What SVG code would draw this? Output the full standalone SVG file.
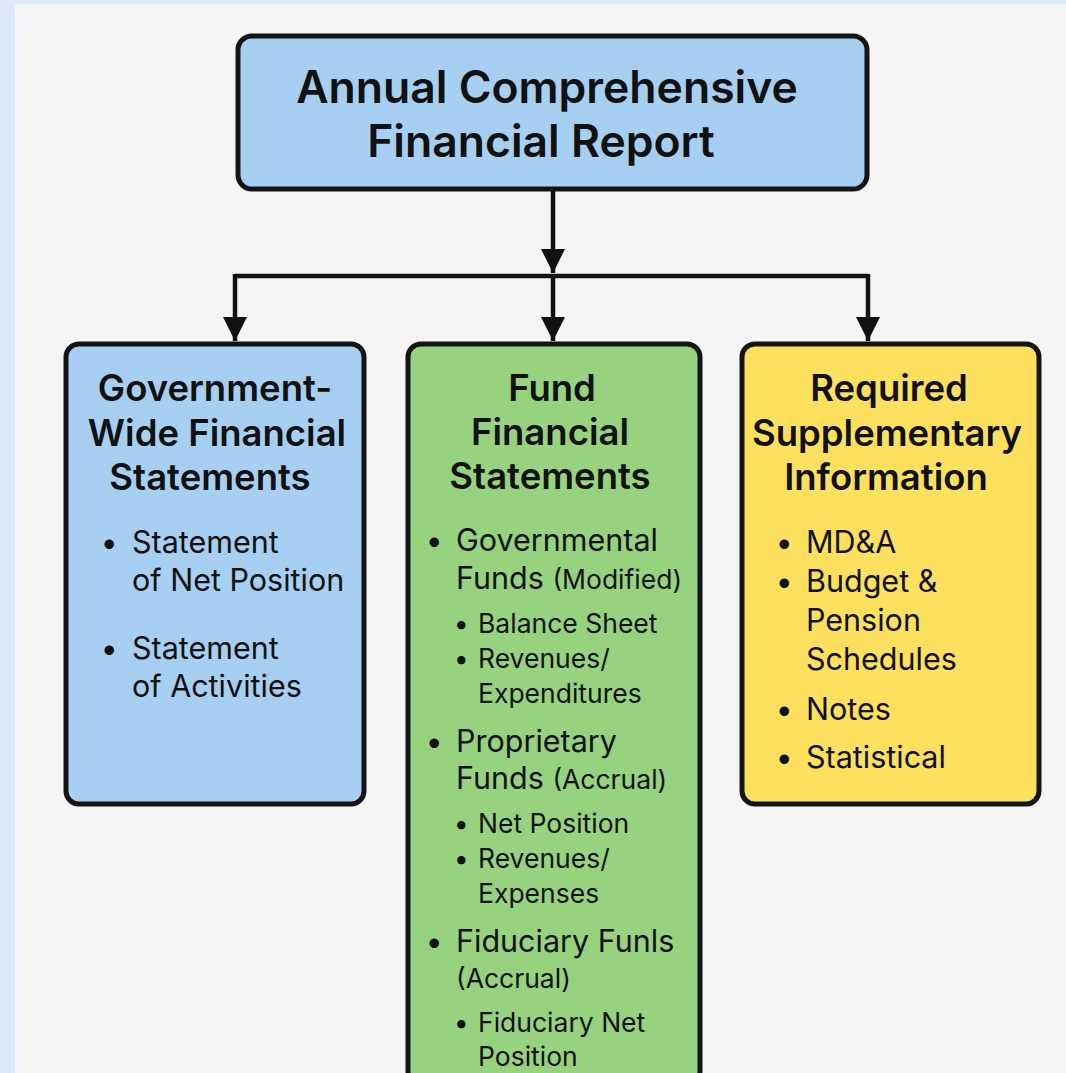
<svg xmlns="http://www.w3.org/2000/svg" width="1066" height="1073" viewBox="0 0 1066 1073">
  <style>
    .box { stroke: #141414; stroke-width: 5; }
    .blue { fill: #a6cff2; }
    .green { fill: #97d27f; }
    .yellow { fill: #fce05e; }
    .title { font-family: Inter, "Open Sans", "Liberation Sans", sans-serif; font-weight: 600; font-size: 44.5px; fill: #111; text-anchor: middle; }
    .head { font-family: Inter, "Open Sans", "Liberation Sans", sans-serif; font-weight: 600; font-size: 36.5px; fill: #111; text-anchor: middle; }
    .item { font-family: Inter, "Open Sans", "Liberation Sans", sans-serif; font-size: 30.5px; fill: #111; }
    .sub { font-family: Inter, "Open Sans", "Liberation Sans", sans-serif; font-size: 26.5px; fill: #111; }
    .dot { font-weight: 700; }
    .note { font-size: 26.5px; }
    .wire { fill: none; stroke: #111; stroke-width: 4.5; }
  </style>
  <defs>
    <marker id="arrow" markerUnits="userSpaceOnUse" markerWidth="26" markerHeight="26" refX="24" refY="12" orient="auto">
      <path d="M0,0 L24,12 L0,24 Z" fill="#111"/>
    </marker>
  </defs>

  <!-- backdrop -->
  <rect x="0" y="0" width="1066" height="1073" fill="#dde9fa"/>
  <rect x="15" y="4" width="1051" height="1069" fill="#f5f5f5"/>

  <!-- connectors -->
  <g id="connectors">
    <path class="wire" d="M553,190 V273" marker-end="url(#arrow)"/>
    <path class="wire" d="M235,276 H868"/>
    <path class="wire" d="M235,274 V341" marker-end="url(#arrow)"/>
    <path class="wire" d="M553,274 V341" marker-end="url(#arrow)"/>
    <path class="wire" d="M868,274 V341" marker-end="url(#arrow)"/>
  </g>

  <!-- root -->
  <g id="acfr">
    <rect class="box blue" x="238" y="36" width="629" height="153" rx="14"/>
    <text class="title" x="547" y="103">Annual Comprehensive</text>
    <text class="title" x="541" y="157">Financial Report</text>
  </g>

  <!-- government-wide -->
  <g id="gov-wide">
    <rect class="box blue" x="66" y="344" width="298" height="460" rx="13"/>
    <text class="head" x="215" y="401">Government-</text>
    <text class="head" x="217" y="446">Wide Financial</text>
    <text class="head" x="210" y="490">Statements</text>
    <text class="item dot" x="102" y="553">•</text>
    <text class="item" x="132" y="553">Statement</text>
    <text class="item" x="132" y="591">of Net Position</text>
    <text class="item dot" x="102" y="659">•</text>
    <text class="item" x="132" y="659">Statement</text>
    <text class="item" x="132" y="697">of Activities</text>
  </g>

  <!-- fund statements -->
  <g id="fund">
    <rect class="box green" x="408" y="344" width="292" height="740" rx="13"/>
    <text class="head" x="552" y="401">Fund</text>
    <text class="head" x="550" y="445">Financial</text>
    <text class="head" x="550" y="489">Statements</text>
    <text class="item dot" x="427" y="551">•</text>
    <text class="item" x="456" y="551">Governmental</text>
    <text class="item" x="456" y="589">Funds <tspan class="note">(Modified)</tspan></text>
    <text class="sub dot" x="455" y="633">•</text>
    <text class="sub" x="478" y="633">Balance Sheet</text>
    <text class="sub dot" x="455" y="668">•</text>
    <text class="sub" x="478" y="668">Revenues/</text>
    <text class="sub" x="478" y="703">Expenditures</text>
    <text class="item dot" x="427" y="752">•</text>
    <text class="item" x="456" y="752">Proprietary</text>
    <text class="item" x="456" y="789">Funds <tspan class="note">(Accrual)</tspan></text>
    <text class="sub dot" x="455" y="833">•</text>
    <text class="sub" x="478" y="833">Net Position</text>
    <text class="sub dot" x="455" y="868">•</text>
    <text class="sub" x="478" y="868">Revenues/</text>
    <text class="sub" x="478" y="903">Expenses</text>
    <text class="item dot" x="427" y="952">•</text>
    <text class="item" x="456" y="952">Fiduciary Funls</text>
    <text class="item note" x="456" y="988">(Accrual)</text>
    <text class="sub dot" x="455" y="1032">•</text>
    <text class="sub" x="478" y="1032">Fiduciary Net</text>
    <text class="sub" x="478" y="1066">Position</text>
  </g>

  <!-- required supplementary information -->
  <g id="rsi">
    <rect class="box yellow" x="742" y="344" width="297" height="460" rx="13"/>
    <text class="head" x="889" y="401">Required</text>
    <text class="head" x="887" y="446">Supplementary</text>
    <text class="head" x="886" y="490">Information</text>
    <text class="item dot" x="777" y="553">•</text>
    <text class="item" x="806" y="553">MD&amp;A</text>
    <text class="item dot" x="777" y="592">•</text>
    <text class="item" x="806" y="592">Budget &amp;</text>
    <text class="item" x="806" y="631">Pension</text>
    <text class="item" x="806" y="670">Schedules</text>
    <text class="item dot" x="777" y="720">•</text>
    <text class="item" x="806" y="720">Notes</text>
    <text class="item dot" x="777" y="768">•</text>
    <text class="item" x="806" y="768">Statistical</text>
  </g>
</svg>
